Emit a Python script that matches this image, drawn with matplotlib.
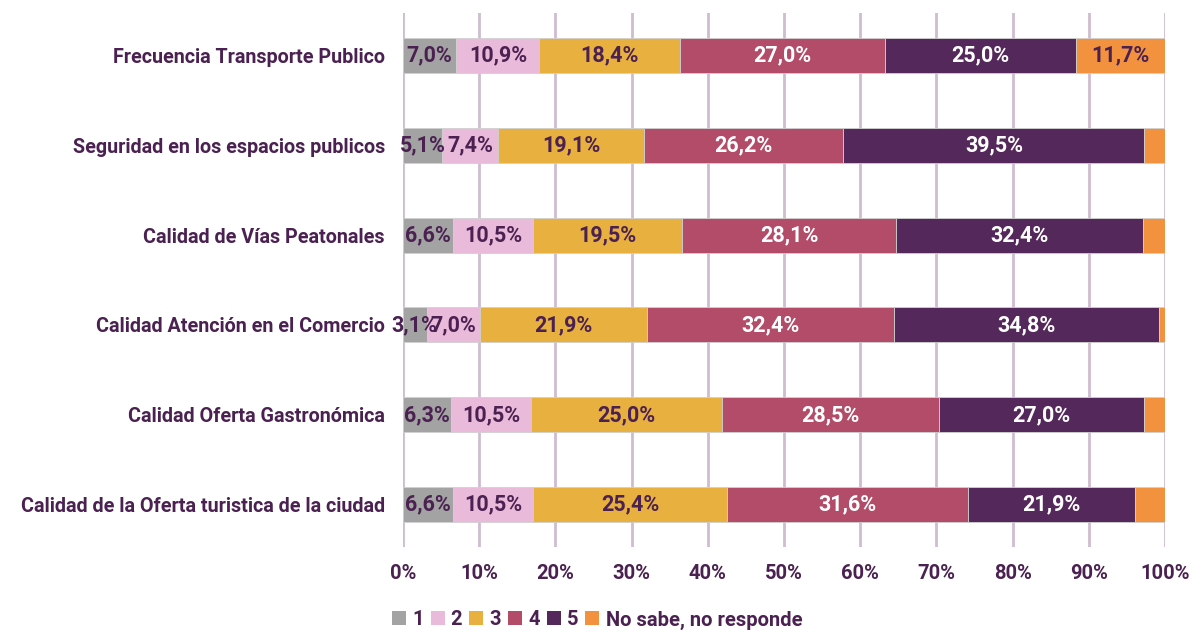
import matplotlib
matplotlib.use("Agg")
import matplotlib.pyplot as plt
from matplotlib.patches import Patch

categories = [
    "Frecuencia Transporte Publico",
    "Seguridad en los espacios publicos",
    "Calidad de Vías Peatonales",
    "Calidad Atención en el Comercio",
    "Calidad Oferta Gastronómica",
    "Calidad de la Oferta turistica de la ciudad",
]
series_names = ["1", "2", "3", "4", "5", "No sabe, no responde"]
s1 = [7.0, 5.1, 6.6, 3.1, 6.3, 6.6]
s2 = [10.9, 7.4, 10.5, 7.0, 10.5, 10.5]
s3 = [18.4, 19.1, 19.5, 21.9, 25.0, 25.4]
s4 = [27.0, 26.2, 28.1, 32.4, 28.5, 31.6]
s5 = [25.0, 39.5, 32.4, 34.8, 27.0, 21.9]
sns_vals = [11.7, 2.7, 2.9, 0.8, 2.7, 4.0]
show_ns_label = [True, False, False, False, False, False]

colors = ["#a3a3a3", "#e9bad9", "#e8b03e", "#b24c68", "#54285a", "#f3923e"]
text_colors = ["#4b2152", "#4b2152", "#4b2152", "#ffffff", "#ffffff", "#4b2152"]
dark = "#4b2152"
grid_c = "#cfbccf"

plt.rcParams["font.family"] = ["Roboto", "DejaVu Sans"]
W = "bold"

fig = plt.figure(figsize=(11.93, 6.31), dpi=100)
ax = fig.add_axes([403/1193, 1-547/631, (1165-403)/1193, (547-13)/631])

all_series = [s1, s2, s3, s4, s5, sns_vals]
ypos = list(range(len(categories)))
left = [0.0]*len(categories)
for k, vals in enumerate(all_series):
    ax.barh(ypos, vals, left=left, height=0.39, color=colors[k],
            edgecolor="#d0d0d0", linewidth=0.6, zorder=3)
    for i, v in enumerate(vals):
        if k == 5 and not show_ns_label[i]:
            continue
        ax.text(left[i] + v/2, i, f"{v:.1f}%".replace(".", ","),
                ha="center", va="center", color=text_colors[k],
                fontsize=15.5, fontweight=W, zorder=4)
    left = [l + v for l, v in zip(left, vals)]

ax.set_xlim(0, 100)
ax.set_ylim(5.47, -0.47)
ax.set_xticks(range(0, 101, 10))
ax.set_xticklabels([f"{t}%" for t in range(0, 101, 10)], color=dark,
                   fontsize=14.5, fontweight=W)
ax.set_yticks(ypos)
ax.set_yticklabels(categories, color=dark, fontsize=14.2, fontweight=W)
ax.tick_params(axis="x", length=0, pad=12)
ax.tick_params(axis="y", length=0, pad=13)
ax.grid(axis="x", color=grid_c, linewidth=2, zorder=0)
for sp in ax.spines.values():
    sp.set_visible(False)

handles = [Patch(facecolor=c, edgecolor="none") for c in colors]
leg = fig.legend(handles, series_names, loc="center", bbox_to_anchor=(597/1193, 1-620/631),
                 ncol=6, frameon=False, handlelength=0.7, handleheight=0.7,
                 handletextpad=0.3, columnspacing=0.35,
                 prop={"size": 14.5, "weight": W})
for t in leg.get_texts():
    t.set_color(dark)

fig.savefig("out.png", dpi=100)
